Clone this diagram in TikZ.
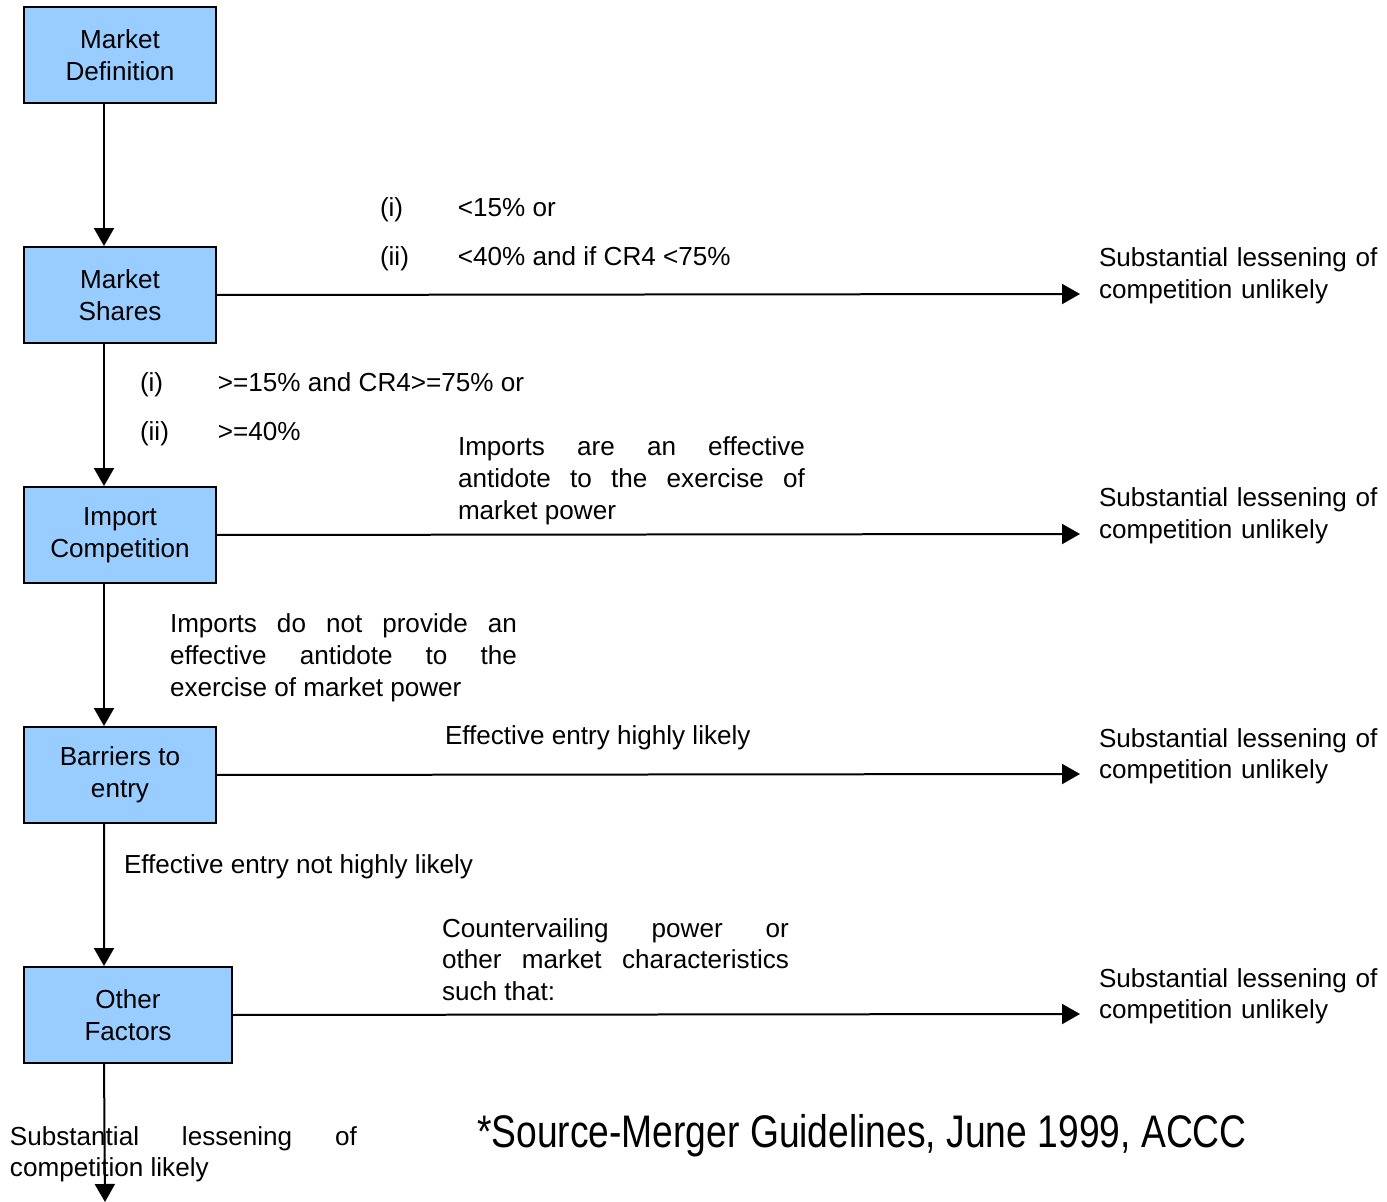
\documentclass[tikz,border=0pt]{standalone}
\usepackage{fontspec}
\setmainfont{Liberation Sans}
\usetikzlibrary{arrows.meta}
\definecolor{boxblue}{HTML}{99CCFF}
\newcommand{\jl}[1]{\makebox[\hsize][s]{#1}}
\begin{document}
\begin{tikzpicture}[x=0.02cm, y=-0.02cm, line width=0.04cm, line join=miter,
    every node/.style={font=\fontsize{14.85}{18.2}\selectfont, inner sep=0pt},
    box/.style={draw, fill=boxblue, minimum width=3.84cm, minimum height=1.92cm, align=center},
    arr/.style={-{Triangle[length=0.36cm, width=0.4cm]}},
    lbl/.style={anchor=base west},
    para/.style={lbl, text width=6.94cm, align=justify}]
    \useasboundingbox (0,0) rectangle (1387,1202);
    \node[box] (b1) at (120,55) {Market\\Definition};
    \node[box] (b2) at (120,295) {Market\\Shares};
    \node[box] (b3) at (120,535) {Import\\Competition};
    \node[box] (b4) at (120,775) {Barriers to\\entry};
    \node[box, minimum width=4.16cm] (b5) at (128,1015) {Other\\Factors};
    \foreach \i/\j in {1/2,2/3,3/4,4/5}
    \draw[arr]([xshift=1.62cm]b\i.south west)--([xshift=1.62cm]b\j.north west);
    \coordinate (out) at (105,1202);
    \draw[arr]([xshift=1.62cm]b5.south west)--(out);
    \foreach \i/\y in {2/294,3/534,4/774,5/1014}{
        \coordinate (e\i) at (1080,\y);
        \draw[arr](b\i.east)--(e\i);
        \node[lbl, text width=6cm, align=left] (r\i) at (1098,\y-27) {Substantial lessening of\\competition unlikely};
    }
    \node[lbl] (c2) at (379,217) {\begin{tabular}[t]{@{}p{1.56cm}@{}l@{}}(i) & <15\% or\\[0.34cm] (ii) & <40\% and if CR4 <75\%\end{tabular}};
    \node[lbl] (c3) at (139,392) {\begin{tabular}[t]{@{}p{1.56cm}@{}l@{}}(i) & >=15\% and CR4>=75\% or\\[0.34cm] (ii) & >=40\%\end{tabular}};
    \node[para] (p3) at (457,456) {\jl{Imports are an effective}\\\jl{antidote to the exercise of}\\market power};
    \node[para] (p4) at (169,633) {\jl{Imports do not provide an}\\\jl{effective antidote to the}\\exercise of market power};
    \node[lbl] (p5) at (444,745) {Effective entry highly likely};
    \node[lbl] (p6) at (123,873) {Effective entry not highly likely};
    \node[para] (p7) at (441,937) {\jl{Countervailing power or}\\\jl{other market characteristics}\\such that:};
    \node[para] (p8) at (9,1145) {\jl{Substantial lessening of}\\competition likely};
    \node[lbl] (src) at (476,1147) {\scalebox{0.815}[1]{\fontsize{26}{30}\selectfont *Source-Merger Guidelines, June 1999, ACCC}};
\end{tikzpicture}
\end{document}
